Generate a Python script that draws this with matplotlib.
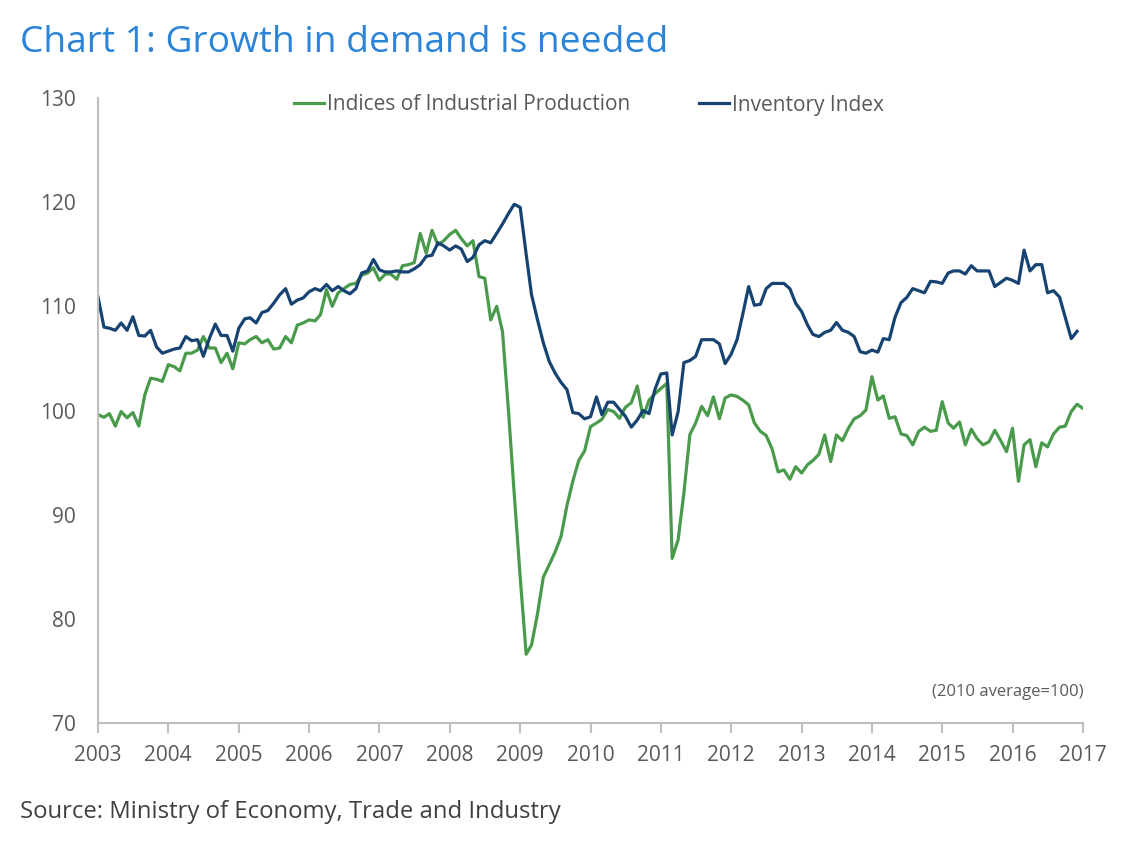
import matplotlib
matplotlib.use("Agg")
import matplotlib.pyplot as plt
import numpy as np
import pandas as pd

plt.rcParams['font.family'] = ['Open Sans', 'DejaVu Sans']

inventory = [
    110.9, 108.0, 107.9, 107.7, 108.4, 107.7, 109.0, 107.2, 107.15, 107.7, 106.1, 105.5,
    105.7, 105.9, 106.0, 107.1, 106.7, 106.8, 105.2, 106.9, 108.3, 107.2, 107.2, 105.7,
    107.9, 108.8, 108.9, 108.4, 109.4, 109.6, 110.3, 111.1, 111.7, 110.2, 110.6, 110.8,
    111.4, 111.7, 111.5, 112.1, 111.5, 111.9, 111.5, 111.2, 111.7, 113.2, 113.4, 114.5,
    113.5, 113.3, 113.3, 113.4, 113.3, 113.3, 113.6, 114.0, 114.8, 114.9, 116.1, 115.8,
    115.4, 115.8, 115.5, 114.3, 114.7, 115.9, 116.3, 116.1, 117.0, 117.9, 118.9, 119.8,
    119.5, 115.0, 111.1, 108.7, 106.5, 104.7, 103.6, 102.7, 102.0, 99.8, 99.7, 99.2,
    99.4, 101.3, 99.6, 100.8, 100.8, 100.1, 99.45, 98.4, 99.1, 100.0, 99.7, 102.0,
    103.5, 103.6, 97.65, 99.9, 104.6, 104.8, 105.2, 106.8, 106.8, 106.8, 106.4, 104.5,
    105.4, 106.8, 109.2, 111.9, 110.1, 110.2, 111.7, 112.2, 112.2, 112.2, 111.7, 110.3,
    109.5, 108.2, 107.3, 107.1, 107.5, 107.7, 108.45, 107.7, 107.5, 107.1, 105.65, 105.5,
    105.8, 105.6, 106.9, 106.8, 108.95, 110.35, 110.85, 111.7, 111.5, 111.3, 112.4, 112.35,
    112.2, 113.2, 113.4, 113.4, 113.1, 113.9, 113.4, 113.4, 113.4, 111.9, 112.3, 112.7,
    112.5, 112.2, 115.4, 113.4, 114.0, 114.0, 111.3, 111.5, 110.9, 108.95, 106.9, 107.6,
]

production = [
    99.6, 99.35, 99.7, 98.5, 99.9, 99.3, 99.8, 98.5, 101.5, 103.1, 103.0, 102.8,
    104.4, 104.2, 103.8, 105.5, 105.5, 105.8, 107.1, 106.0, 106.0, 104.6, 105.5, 104.0,
    106.5, 106.4, 106.8, 107.1, 106.5, 106.8, 105.9, 106.0, 107.1, 106.5, 108.2, 108.4,
    108.7, 108.6, 109.2, 111.6, 110.0, 111.3, 111.7, 112.1, 112.2, 113.0, 113.2, 113.7,
    112.5, 113.1, 113.1, 112.6, 113.9, 114.0, 114.2, 117.0, 115.1, 117.3, 115.9, 116.3,
    116.9, 117.3, 116.5, 115.8, 116.3, 112.85, 112.7, 108.7, 110.0, 107.6, 100.0, 92.0,
    84.0, 76.6, 77.5, 80.5, 84.0, 85.2, 86.4, 87.9, 90.9, 93.2, 95.2, 96.1,
    98.45, 98.8, 99.15, 100.1, 99.9, 99.25, 100.3, 100.75, 102.35, 99.35, 101.0, 101.6,
    102.1, 102.6, 85.8, 87.6, 92.1, 97.7, 98.8, 100.4, 99.5, 101.3, 99.2, 101.2,
    101.5, 101.35, 101.0, 100.55, 98.8, 98.0, 97.6, 96.3, 94.1, 94.3, 93.4, 94.6,
    94.0, 94.8, 95.2, 95.8, 97.65, 95.1, 97.65, 97.1, 98.3, 99.2, 99.5, 100.05,
    103.25, 101.0, 101.4, 99.25, 99.4, 97.75, 97.6, 96.7, 98.0, 98.4, 98.0, 98.1,
    100.85, 98.8, 98.3, 98.9, 96.7, 98.2, 97.3, 96.7, 97.0, 98.1, 97.1, 96.05,
    98.3, 93.2, 96.7, 97.2, 94.6, 96.9, 96.5, 97.75, 98.4, 98.5, 99.9, 100.6,
    100.2,
]

years = list(range(2003, 2018))
yticks = [70, 80, 90, 100, 110, 120, 130]

dates_prod = pd.date_range("2003-01-01", periods=len(production), freq="MS")
dates_inv = pd.date_range("2003-01-01", periods=len(inventory), freq="MS")

green = "#4a9a4c"
blue = "#174372"
gray_text = "#595959"
axis_gray = "#bfbfbf"

fig = plt.figure(figsize=(11.46, 8.43), dpi=100)
ax = fig.add_axes([98/1146, 1-723/843, (1083-98)/1146, (723-98)/843])

ax.plot(dates_prod, production, color=green, lw=2.3, label="Indices of Industrial Production")
ax.plot(dates_inv, inventory, color=blue, lw=2.3, label="Inventory Index")

ax.set_xlim(pd.Timestamp(f"{years[0]}-01-01"), pd.Timestamp(f"{years[-1]}-01-01"))
ax.set_ylim(yticks[0], yticks[-1])
ax.set_yticks(yticks)
ax.set_xticks([pd.Timestamp(f"{y}-01-01") for y in years])
ax.set_xticklabels([str(y) for y in years])

for s in ["top", "right"]:
    ax.spines[s].set_visible(False)
for s in ["left", "bottom"]:
    ax.spines[s].set_color(axis_gray)
    ax.spines[s].set_linewidth(1.5)

ax.tick_params(axis="x", direction="out", length=7, width=1.5, color=axis_gray,
               labelsize=15, labelcolor=gray_text, pad=9)
ax.tick_params(axis="y", length=0, labelsize=15, labelcolor=gray_text, pad=16)

leg = fig.legend(loc="center", bbox_to_anchor=(589/1146, 1-105/843), ncol=2, frameon=False,
                 fontsize=15, handlelength=1.45, handletextpad=0.15, columnspacing=3.3,
                 borderpad=0, borderaxespad=0)
for t in leg.get_texts():
    t.set_color(gray_text)

fig.text(20/1146, 1-43/843, "Chart 1: Growth in demand is needed", color="#2b84d8",
         fontsize=26.7, ha="left", va="center")
fig.text(20/1146, 1-812/843, "Source: Ministry of Economy, Trade and Industry", color="#404040",
         fontsize=17.2, ha="left", va="center")
ax.text(1.0, 0.05, "(2010 average=100)", transform=ax.transAxes, ha="right", va="center",
        fontsize=12, color=gray_text)

fig.savefig("out.png", dpi=100)
